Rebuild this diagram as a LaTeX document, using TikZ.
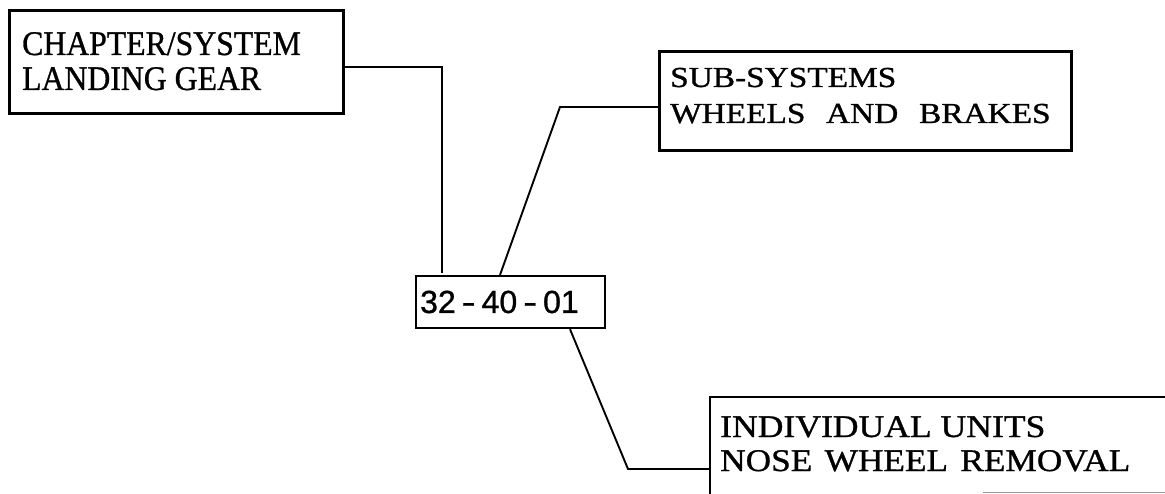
\documentclass[tikz,border=0pt]{standalone}
\usepackage{fontspec}
\setmainfont[FakeBold=0.9]{Liberation Serif}
\newfontfamily\codefam[FakeBold=0.9]{Liberation Sans}
\usetikzlibrary{calc}
\tikzset{
  box/.style={draw, line width=2.8pt, inner sep=0pt, anchor=north west},
  conn/.style={draw, line width=1.9pt, line join=miter},
  lblA/.style={inner sep=0pt, anchor=base west, font=\fontsize{34.5}{34.5}\selectfont},
  lblB/.style={inner sep=0pt, anchor=base west, font=\fontsize{29}{29}\selectfont},
  lblC/.style={inner sep=0pt, anchor=base west, font=\fontsize{31.5}{31.5}\selectfont},
  codefont/.style={inner sep=0pt, anchor=base west, font=\codefam\fontsize{32}{32}\selectfont}
}
\newcommand\hy{\kern6pt\scalebox{1.3}[1]{-}\kern6pt}
\begin{document}
\begin{tikzpicture}[x=1pt,y=-1pt]
\useasboundingbox[fill=white] (0,0) rectangle (1165,494);
% boxes
\node[box, line width=3pt, minimum width=334pt, minimum height=103pt] (chap) at (8,9) {};
\node[lblA] (chapa) at (22,55) {\scalebox{0.92}[1]{CHAPTER/SYSTEM}};
\node[lblA] (chapb) at (22,90) {\scalebox{0.92}[1]{LANDING GEAR}};

\node[box, minimum width=412pt, minimum height=99pt] (sub) at (658,50) {};
\node[lblB] (suba) at (670,87) {\scalebox{1.15}[1]{SUB-SYSTEMS}};
\node[lblB] (subb) at (670,123) {\scalebox{1.15}[1]{WHEELS\hspace{18pt}AND\hspace{18pt}BRAKES}};

\node[box, line width=2.2pt, minimum width=189pt, minimum height=52pt] (code) at (415,275) {};
\node[codefont] (codet) at (420,313) {32\hy40\hy01};

\node[inner sep=0pt, anchor=north west, minimum width=520pt, minimum height=140pt] (ind) at (710,397) {};
\draw[line width=2.8pt] (ind.south west) -- (ind.north west) -- (ind.north east);
\draw[black!40, line width=1pt] ($(ind.north west)+(273,95)$) -- ($(ind.north west)+(470,95)$);
\node[lblC] (inda) at (720,437) {\scalebox{1.13}[1]{INDIVIDUAL UNITS}};
\node[lblC] (indb) at (720,471) {\scalebox{1.12}[1]{NOSE\hspace{11pt}WHEEL\hspace{11pt}REMOVAL}};

% connectors
\coordinate (bk1) at (560,107);
\coordinate (bk2) at (628,469);
\draw[conn] ($(chap.north east)+(0,58)$) -| ($(code.north west)+(27,-2)$);
\draw[conn] ($(code.north west)+(85,0)$) -- (bk1) -- (sub.west |- bk1);
\draw[conn] ($(code.south west)+(155,0)$) -- (bk2) -- (ind.west |- bk2);
\end{tikzpicture}
\end{document}
